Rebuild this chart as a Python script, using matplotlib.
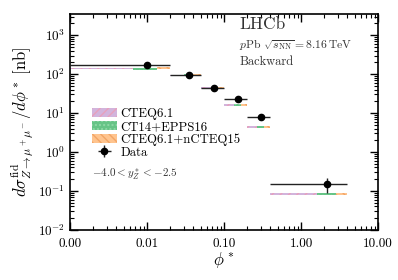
import numpy as np
import matplotlib
matplotlib.use("Agg")
from matplotlib import pyplot as plt
from matplotlib.patches import Patch
from matplotlib.ticker import FixedLocator, FixedFormatter

plt.rcParams['font.family'] = 'serif'
plt.rcParams['font.serif'] = ['cmr10']
plt.rcParams['mathtext.fontset'] = 'cm'
plt.rcParams['axes.unicode_minus'] = False
plt.rcParams['axes.formatter.use_mathtext'] = True

# phi* bins
bin_edges = [0.0, 0.02, 0.05, 0.1, 0.2, 0.4, 4.0]

# measurement (nb)
data_val = [167.0, 96.0, 44.6, 22.9, 8.0, 0.151]
data_err = [6.0, 3.5, 1.8, 1.0, 0.5, 0.062]

# predictions: lower / upper edge of band (nb)
cteq_lo = [132.0, 88.0, 42.0, 15.6, 4.1, 0.079]
cteq_hi = [146.0, 97.0, 46.5, 17.3, 4.55, 0.088]
epps_lo = [131.0, 87.5, 41.8, 15.5, 4.05, 0.078]
epps_hi = [147.0, 98.0, 47.0, 17.5, 4.6, 0.089]
ncteq_lo = [132.0, 88.0, 42.0, 15.6, 4.1, 0.079]
ncteq_hi = [148.0, 99.0, 47.5, 17.6, 4.65, 0.090]

edges = np.array(bin_edges)
centres = 0.5 * (edges[:-1] + edges[1:])
halfw = 0.5 * (edges[1:] - edges[:-1])

fig, ax = plt.subplots(figsize=(3.98, 2.8), dpi=100)
fig.subplots_adjust(left=0.176, right=0.95, bottom=0.179, top=0.95)

styles = [
    ('CTEQ6.1', cteq_lo, cteq_hi, '#d2b4dc', '#e8a0bc', '////'),
    ('CT14+EPPS16', epps_lo, epps_hi, '#66c486', '#8ed8a6', '....'),
    ('CTEQ6.1+nCTEQ15', ncteq_lo, ncteq_hi, '#ffc48e', '#f2a566', '\\\\\\\\'),
]

handles = []
for k, (name, lo, hi, fc, hc, hatch) in enumerate(styles):
    for i in range(len(centres)):
        w = edges[i + 1] - edges[i]
        x0 = max(edges[i] + k * w / 3.0, 1e-6)
        x1 = edges[i] + (k + 1) * w / 3.0
        ax.fill_between([x0, x1], lo[i], hi[i], facecolor=fc, edgecolor=hc,
                        hatch=hatch, linewidth=0, zorder=2)
    handles.append(Patch(facecolor=fc, edgecolor=hc, hatch=hatch, linewidth=0, label=name))

eb = ax.errorbar(centres, data_val, xerr=halfw, yerr=data_err, fmt='o', color='k',
                 ecolor='#222222', elinewidth=1.0, markersize=4.5, capsize=0, zorder=3,
                 label='Data')
handles.append(eb)

ax.set_xscale('log')
ax.set_yscale('log')
ax.set_xlim(0.001, 10)
ax.set_ylim(1e-2, 3500)

xt = [0.001, 0.01, 0.1, 1, 10]
ax.xaxis.set_major_locator(FixedLocator(xt))
ax.xaxis.set_major_formatter(FixedFormatter(['%.2f' % v for v in xt]))

ax.tick_params(which='both', direction='in', top=True, right=True, labelsize=9.5)
ax.tick_params(axis='x', which='major', pad=6)
ax.tick_params(which='major', length=6, width=1)
ax.tick_params(which='minor', length=3, width=0.8)
for s in ax.spines.values():
    s.set_linewidth(1.2)

ax.set_xlabel(r'$\phi^*$', fontsize=12, labelpad=0)
ax.set_ylabel(r'$d\sigma^{\rm fid}_{Z\to\mu^+\mu^-}/d\phi^*\;[\rm nb]$', fontsize=12, labelpad=2)

ax.text(0.549, 0.954, 'LHCb', transform=ax.transAxes, fontsize=12.5, va='center', color='#333333')
ax.text(0.549, 0.861, r'$p{\rm Pb}\ \sqrt{s_{\rm NN}}=8.16\,{\rm TeV}$', transform=ax.transAxes,
        fontsize=8.4, va='center', color='#333333')
ax.text(0.549, 0.776, 'Backward', transform=ax.transAxes, fontsize=9, va='center', color='#333333')
ax.text(0.071, 0.255, r'$-4.0<y^*_Z<-2.5$', transform=ax.transAxes, fontsize=8,
        va='center', color='#333333')

ax.legend(handles=handles, loc='upper left', bbox_to_anchor=(0.071, 0.565), frameon=False,
          fontsize=9.2, handlelength=1.95, handleheight=0.75, handletextpad=0.3,
          labelspacing=0.05, borderaxespad=0, borderpad=0)

fig.savefig('out.png', dpi=100)
